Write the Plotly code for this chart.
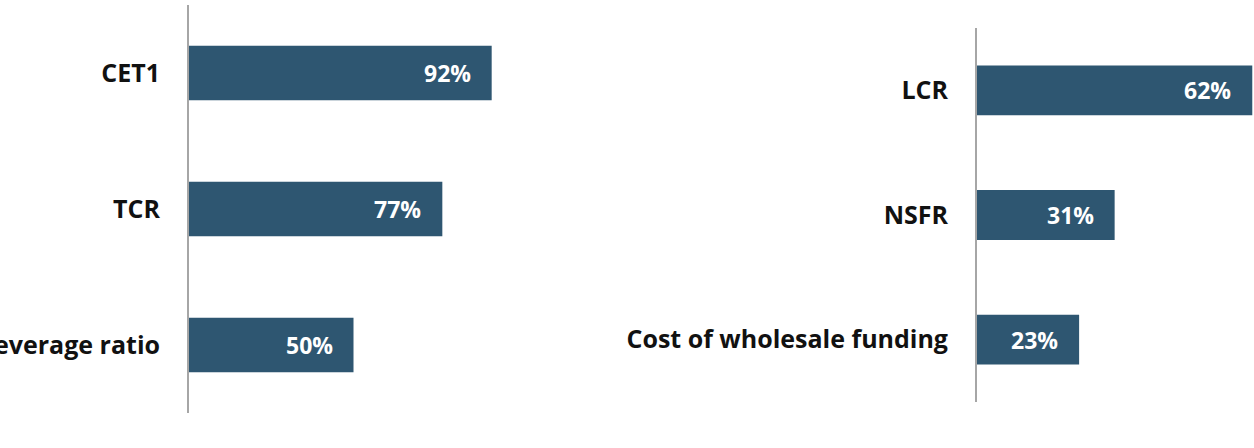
import plotly.graph_objects as go

left_categories = ["CET1", "TCR", "Leverage ratio"]
left_values = [92, 77, 50]
right_categories = ["LCR", "NSFR", "Cost of wholesale funding"]
right_values = [62, 31, 23]

BAR = "#2E5671"
FONT = "Open Sans"
W, H = 1254, 448

fig = go.Figure()
fig.add_trace(go.Bar(x=left_values, y=left_categories, orientation="h",
                     marker=dict(color=BAR, line=dict(width=0)), width=0.4,
                     xaxis="x", yaxis="y", hoverinfo="skip"))
fig.add_trace(go.Bar(x=right_values, y=right_categories, orientation="h",
                     marker=dict(color=BAR, line=dict(width=0)), width=0.4,
                     xaxis="x2", yaxis="y2", hoverinfo="skip"))

annotations = []
for cats, vals, xr, yr in [(left_categories, left_values, "x", "y"),
                           (right_categories, right_values, "x2", "y2")]:
    for c, v in zip(cats, vals):
        annotations.append(dict(x=v, y=c, xref=xr, yref=yr, text=f"{v}%",
                                showarrow=False, xanchor="right", xshift=-19,
                                font=dict(family=FONT, size=23, color="white", weight="bold")))

lx0 = 189
lx1 = 560
ppl = 3.29
rx0 = 977
ppr = 4.44

axis_common = dict(showgrid=False, zeroline=False, showticklabels=False, fixedrange=True)
yaxis_common = dict(showgrid=False, zeroline=False, showline=True, linecolor="#A6A6A6",
                    linewidth=2, autorange="reversed", ticks="", ticklabelstandoff=22,
                    automargin=False, tickfont=dict(family=FONT, size=25, color="#111111", weight="bold"))

fig.update_layout(
    width=W, height=H,
    margin=dict(l=0, r=0, t=0, b=0),
    paper_bgcolor="white", plot_bgcolor="white",
    showlegend=False,
    bargap=0.6,
    xaxis=dict(domain=[lx0 / W, lx1 / W], range=[0, (lx1 - lx0) / ppl], anchor="y", **axis_common),
    yaxis=dict(domain=[1 - 413 / H, 1 - 5 / H], anchor="x", **yaxis_common),
    xaxis2=dict(domain=[rx0 / W, 1], range=[0, (W - rx0) / ppr], anchor="y2", **axis_common),
    yaxis2=dict(domain=[1 - 402 / H, 1 - 28 / H], anchor="x2", **yaxis_common),
    annotations=annotations,
)

fig.write_html("out.html")
